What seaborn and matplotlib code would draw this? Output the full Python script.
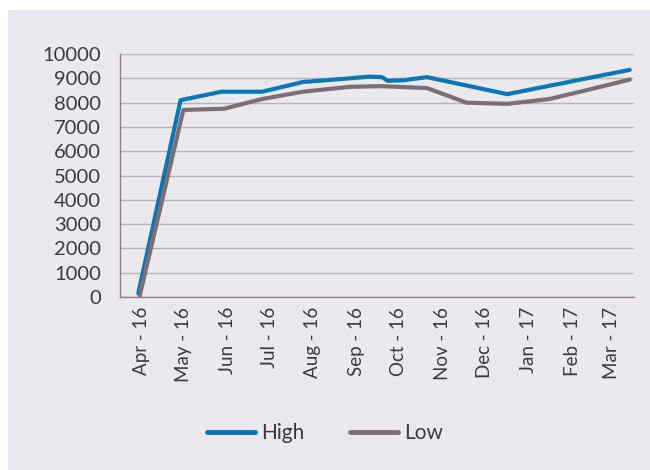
import matplotlib
matplotlib.use("Agg")
import matplotlib.pyplot as plt
import matplotlib.dates as mdates
from matplotlib.patches import Rectangle
import seaborn as sns
import pandas as pd

# values
high_dates = ["2016-04-14", "2016-05-14", "2016-06-12", "2016-07-11", "2016-08-09",
              "2016-09-11", "2016-09-25", "2016-10-04", "2016-10-08", "2016-10-19",
              "2016-11-05", "2017-01-01", "2017-03-29"]
high_values = [150, 8100, 8450, 8450, 8850, 9000, 9070, 9050, 8900, 8920, 9050, 8350, 9350]

low_dates = ["2016-04-15", "2016-05-16", "2016-06-14", "2016-07-11", "2016-08-09",
             "2016-09-11", "2016-10-03", "2016-11-05", "2016-12-03", "2017-01-01",
             "2017-01-31", "2017-03-01", "2017-03-29"]
low_values = [50, 7700, 7750, 8150, 8450, 8650, 8680, 8600, 8000, 7950, 8150, 8550, 8950]

y_ticks = [0, 1000, 2000, 3000, 4000, 5000, 6000, 7000, 8000, 9000, 10000]

high = pd.DataFrame({"date": pd.to_datetime(high_dates), "value": high_values, "series": "High"})
low = pd.DataFrame({"date": pd.to_datetime(low_dates), "value": low_values, "series": "Low"})
df = pd.concat([high, low], ignore_index=True)

bg = "#ebe9ee"
grid_col = "#b7b3b9"
spine_col = "#8c7f88"
text_col = "#3c3a3d"
colours = {"High": "#0a77b5", "Low": "#7b6f75"}

sns.set_style("white")
plt.rcParams['font.family'] = ['Lato', 'DejaVu Sans']

fig = plt.figure(figsize=(6.5, 4.7), dpi=100)
fig.patch.set_facecolor("white")
# grey panel with a thin white margin on the top and left
fig.patches.append(Rectangle((8 / 650, 0), 1, 460 / 470, transform=fig.transFigure,
                             facecolor=bg, edgecolor="none", zorder=-5))

ax = fig.add_axes([0.1846, 0.368, 0.7908, 0.517])
ax.set_facecolor("none")
ax.set_zorder(2)

sns.lineplot(data=df, x="date", y="value", hue="series", palette=colours,
             estimator=None, linewidth=3, solid_capstyle="round", ax=ax)

ax.set_ylim(0, 10000)
ax.set_yticks(y_ticks)
ax.set_xlim(pd.Timestamp("2016-04-01"), pd.Timestamp("2017-04-01"))

# month boundaries as tick marks, names in the middle of each month
ax.xaxis.set_major_locator(mdates.MonthLocator())
ax.xaxis.set_major_formatter(plt.NullFormatter())
ax.xaxis.set_minor_locator(mdates.MonthLocator(bymonthday=16))
ax.xaxis.set_minor_formatter(mdates.DateFormatter("%b - %y"))
ax.tick_params(axis="x", which="major", length=11.5, width=1, color=spine_col, direction="out")
ax.tick_params(axis="x", which="minor", length=0, pad=7, labelsize=13.5,
               labelcolor=text_col, labelrotation=90)
ax.tick_params(axis="y", length=10, width=1, color=grid_col, pad=3.5,
               labelsize=14.5, labelcolor=text_col)

ax.grid(axis="y", color=grid_col, linewidth=1)
ax.grid(axis="x", visible=False)
ax.set_axisbelow(True)
for side in ["top", "right"]:
    ax.spines[side].set_visible(False)
for side in ["left", "bottom"]:
    ax.spines[side].set_color(spine_col)
    ax.spines[side].set_linewidth(1)
ax.set_xlabel("")
ax.set_ylabel("")

handles, labels = ax.get_legend_handles_labels()
ax.get_legend().remove()
leg = fig.legend(handles, labels, loc="center", bbox_to_anchor=(0.5, 0.079), ncol=2,
                 frameon=False, fontsize=15, handlelength=2.3, handletextpad=0.3,
                 columnspacing=2.2)
for line in leg.get_lines():
    line.set_linewidth(3.5)
    line.set_solid_capstyle("round")
for t in leg.get_texts():
    t.set_color(text_col)

fig.savefig("out.png", dpi=100, facecolor=fig.get_facecolor())
